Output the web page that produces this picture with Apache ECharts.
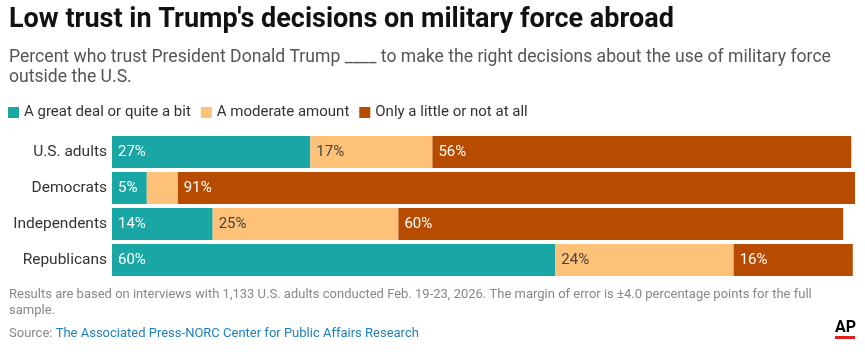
<!DOCTYPE html>
<html>
<head>
<meta charset="utf-8">
<script src="https://cdn.jsdelivr.net/npm/echarts@6/dist/echarts.min.js"></script>
<style>
  html, body { margin: 0; padding: 0; background: #fff; }
  #chart { width: 865px; height: 352px; }
</style>
</head>
<body>
<div id="chart"></div>
<script>
// groups, top to bottom
const groups = ["U.S. adults", "Democrats", "Independents", "Republicans"];
const seriesNames = ["A great deal or quite a bit", "A moderate amount", "Only a little or not at all"];

// bar widths (percent)
const greatDeal = [26.8, 4.7, 13.6, 59.9];
const moderate = [16.5, 4.2, 25.1, 24.1];
const little = [56.6, 91.5, 60.1, 16.1];

// printed labels
const greatLbl = ["27%", "5%", "14%", "60%"];
const moderateLbl = ["17%", "", "25%", "24%"];
const littleLbl = ["56%", "91%", "60%", "16%"];

const colors = ["#1ba6a6", "#fec178", "#b74c00"];
const FONT = "Roboto";

var myChart = echarts.init(document.getElementById("chart"));

const mkSeries = (name, data, lbls, color, lblColor) => ({
  name: name,
  type: "bar",
  stack: "total",
  barWidth: 32,
  data: data,
  itemStyle: { color: color },
  label: {
    show: true,
    position: "insideLeft",
    distance: 6,
    fontFamily: FONT,
    fontSize: 15,
    color: lblColor,
    formatter: (p) => lbls[p.dataIndex],
  },
  emphasis: { disabled: true },
});

var option = {
  animation: false,
  title: [
    {
      text: "Low trust in Trump's decisions on military force abroad",
      left: 4,
      top: 2,
      textStyle: { fontFamily: FONT, fontSize: 27, fontWeight: "bold", color: "#111" },
    },
    {
      text: "Percent who trust President Donald Trump ____ to make the right decisions about the use of military force\noutside the U.S.",
      left: 4,
      top: 43,
      textStyle: { fontFamily: FONT, fontSize: 17.6, fontWeight: "normal", color: "#555", lineHeight: 20 },
    },
    {
      text: "Results are based on interviews with 1,133 U.S. adults conducted Feb. 19-23, 2026. The margin of error is \u00b14.0 percentage points for the full\nsample.",
      left: 4,
      top: 282,
      textStyle: { fontFamily: FONT, fontSize: 13, fontWeight: "normal", color: "#888", lineHeight: 16 },
    },
    {
      text: "{s|Source: }{l|The Associated Press-NORC Center for Public Affairs Research}",
      left: 4,
      top: 322,
      textStyle: {
        fontWeight: "normal",
        rich: {
          s: { fontFamily: FONT, fontSize: 13, fontWeight: "normal", color: "#888" },
          l: { fontFamily: FONT, fontSize: 13, fontWeight: "normal", color: "#1f80c3" },
        },
      },
    },
  ],
  legend: {
    left: 3,
    top: 100,
    icon: "rect",
    itemWidth: 11,
    itemHeight: 11,
    itemGap: 10,
    selectedMode: false,
    textStyle: { fontFamily: FONT, fontSize: 15, color: "#333" },
    data: seriesNames,
  },
  grid: { left: 112, right: 10, top: 134, bottom: 74, containLabel: false },
  xAxis: {
    type: "value",
    min: 0,
    max: 100.4,
    show: false,
  },
  yAxis: {
    type: "category",
    data: groups,
    inverse: true,
    axisLine: { show: false },
    axisTick: { show: false },
    axisLabel: { fontFamily: FONT, fontSize: 15.5, color: "#333", margin: 5 },
  },
  series: [
    mkSeries(seriesNames[0], greatDeal, greatLbl, colors[0], "#fff"),
    mkSeries(seriesNames[1], moderate, moderateLbl, colors[1], "#444"),
    mkSeries(seriesNames[2], little, littleLbl, colors[2], "#fff"),
  ],
  graphic: [
    {
      type: "text",
      left: 835,
      top: 320,
      style: { text: "AP", fontFamily: FONT, fontSize: 16, fontWeight: "bold", fill: "#000" },
    },
    {
      type: "rect",
      left: 835,
      top: 336,
      shape: { width: 20, height: 3 },
      style: { fill: "#e0211b" },
    },
  ],
};

myChart.setOption(option);
</script>
</body>
</html>
